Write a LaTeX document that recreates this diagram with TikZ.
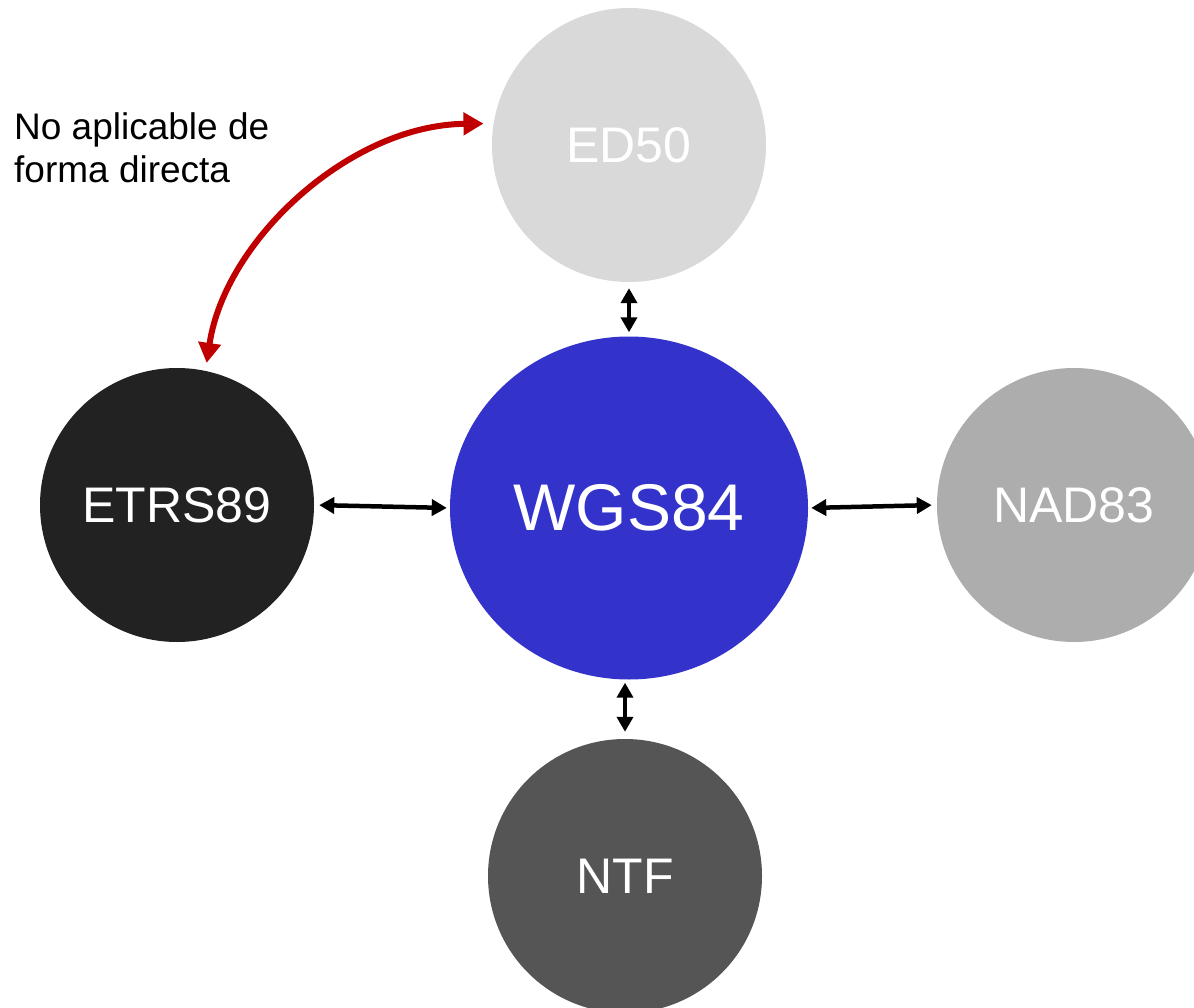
\documentclass[tikz,border=0pt]{standalone}
\usepackage{fontspec}
\setmainfont{Liberation Sans}
\usetikzlibrary{shapes.geometric,arrows.meta}
\definecolor{edgray}{HTML}{D9D9D9}
\definecolor{wgsblue}{HTML}{3333CC}
\definecolor{etrsblack}{HTML}{222222}
\definecolor{nadgray}{HTML}{ADADAD}
\definecolor{ntfgray}{HTML}{555555}
\definecolor{redarrow}{HTML}{C00000}
\begin{document}
\begin{tikzpicture}[x=1pt,y=-1pt,
  sysnode/.style={circle,minimum size=274pt,inner sep=0pt,text=white,
    font=\fontsize{50}{60}\selectfont},
  link/.style={{Triangle[length=15pt,width=16pt]}-{Triangle[length=15pt,width=16pt]},line width=4.5pt,black},
  redlink/.style={{Triangle[length=20pt,width=22pt]}-{Triangle[length=20pt,width=22pt]},line width=6pt,redarrow}]
\useasboundingbox (0,0) rectangle (1194,1008);
\fill[white] (0,0) rectangle (1194,1008);
\node[sysnode,fill=edgray] (ed) at (629,145) {ED50};
\node[ellipse,minimum width=358pt,minimum height=343pt,inner sep=0pt,fill=wgsblue,text=white,
  font=\fontsize{66}{78}\selectfont] (wgs) at (629,508) {WGS84};
\node[sysnode,fill=etrsblack] (etrs) at (177,505) {ETRS89};
\node[sysnode,fill=nadgray] (nad) at (1074,505) {NAD83};
\node[sysnode,fill=ntfgray] (ntf) at (625,876) {NTF};
\node[anchor=base west,align=left,inner sep=0pt,
  font=\fontsize{37}{43}\selectfont] (note) at (14,183) {No aplicable de\\forma directa};
\draw[link,shorten <=6pt,shorten >=4pt] (ed.south) -- (wgs.north);
\draw[link,shorten <=3pt,shorten >=7pt] (wgs.south -| ntf.north) -- (ntf.north);
\draw[link,shorten <=5pt,shorten >=3pt] (etrs.east) -- (wgs.west);
\draw[link,shorten <=3pt,shorten >=5pt] (wgs.east) -- (nad.west);
\draw[redlink,shorten <=10pt,shorten >=8pt] (ed.171) .. controls (350,125) and (225,240) .. (etrs.78);
\end{tikzpicture}
\end{document}
